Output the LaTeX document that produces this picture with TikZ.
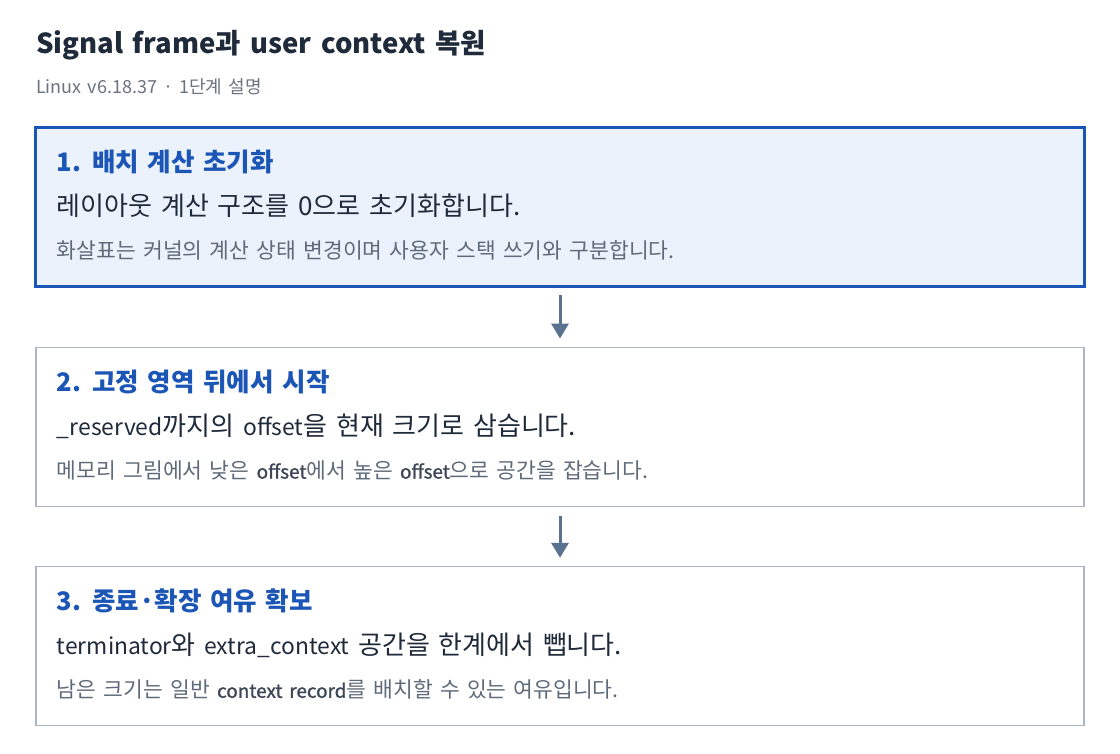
\documentclass[tikz,border=0pt]{standalone}
\usepackage{fontspec}
\setmainfont{Noto Sans CJK KR}
\newfontfamily\titlefont[WordSpace=1.6]{Noto Sans CJK KR}
\newfontfamily\subfont[WordSpace=1.8]{Noto Sans CJK KR}
\newfontfamily\headfont[WordSpace=2.3]{Noto Sans CJK KR}
\newfontfamily\bodyfont[WordSpace=1.5]{Noto Sans CJK KR}
\newfontfamily\notefont[WordSpace=1.6]{Noto Sans CJK KR}
\newfontfamily\latfont[Scale=0.88]{Noto Sans CJK KR}
\newfontfamily\semibold[FakeBold=1.2, Scale=0.88, WordSpace=1.6]{Noto Sans CJK KR}
\usetikzlibrary{matrix,arrows.meta}

\definecolor{ink}{HTML}{1F2A3A}
\definecolor{muted}{HTML}{6B7280}
\definecolor{stepblue}{HTML}{1B56B6}
\definecolor{stepfill}{HTML}{EBF2FC}
\definecolor{stepline}{HTML}{AAB6C6}
\definecolor{notegray}{HTML}{5F6B7A}
\definecolor{codegray}{HTML}{3D4756}
\definecolor{flow}{HTML}{5A7190}

\newcommand\lat[1]{{\latfont #1}}
\newcommand\code[1]{{\semibold\color{codegray}#1}}
\newcommand\stepcell[3]{%
  \vbox to 159pt{\offinterlineskip
    \kern44pt\hbox to 1048pt{\kern21pt\smash{\color{stepblue}\headfont\bfseries\fontsize{25.5}{30}\selectfont #1}\hfil}%
    \kern44pt\hbox to 1048pt{\kern21pt\smash{\color{ink}\bodyfont\fontsize{26}{30}\selectfont #2}\hfil}%
    \kern43pt\hbox to 1048pt{\kern21pt\smash{\color{notegray}\notefont\fontsize{21.5}{25}\selectfont #3}\hfil}%
    \vss}}

\begin{document}
\begin{tikzpicture}[x=1pt, y=-1pt,
    stepbox/.style={draw=stepline, line width=1.2pt, fill=white, inner sep=0pt},
    activebox/.style={draw=stepblue, line width=3pt, fill=stepfill},
    flowarrow/.style={draw=flow, line width=3pt, -{Triangle[width=17pt,length=15pt]},
      shorten <=9pt, shorten >=9pt}]
  \useasboundingbox[fill=white] (0,0) rectangle (1120,754);
  \node[anchor=base west, inner sep=0pt, text=ink, font=\titlefont\bfseries\fontsize{27.5}{32}\selectfont]
    (title) at (36,54) {Signal frame과 user context 복원};
  \node[anchor=base west, inner sep=0pt, text=muted, font=\subfont\fontsize{18}{22}\selectfont]
    (subtitle) at (36,94) {Linux v6.18.37 · 1단계 설명};
  \matrix(steps)[matrix of nodes, ampersand replacement=\&, nodes={stepbox},
    row sep=59pt, inner sep=0pt, outer sep=0pt, anchor=north] at (560,126) {
    |[activebox]| \stepcell{1. 배치 계산 초기화}{레이아웃 계산 구조를 0으로 초기화합니다.}{화살표는 커널의 계산 상태 변경이며 사용자 스택 쓰기와 구분합니다.} \\
    \stepcell{2. 고정 영역 뒤에서 시작}{\lat{\_reserved}까지의 \lat{offset}을 현재 크기로 삼습니다.}{메모리 그림에서 낮은 \code{offset}에서 높은 \code{offset}으로 공간을 잡습니다.} \\
    \stepcell{3. 종료·확장 여유 확보}{\lat{terminator}와 \lat{extra\_context} 공간을 한계에서 뺍니다.}{남은 크기는 일반 \code{context record}를 배치할 수 있는 여유입니다.} \\
  };
  \path[flowarrow] (steps-1-1) -- (steps-2-1);
  \path[flowarrow] (steps-2-1) -- (steps-3-1);
\end{tikzpicture}
\end{document}
